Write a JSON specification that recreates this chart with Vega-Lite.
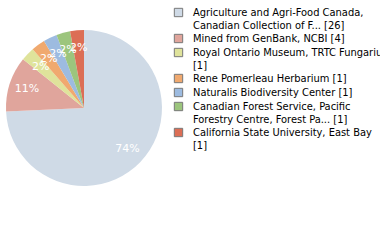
{
  "$schema": "https://vega.github.io/schema/vega-lite/v6.json",
  "width": 168,
  "height": 216,
  "padding": {"left": 0, "top": 0, "right": 212, "bottom": 24},
  "autosize": "none",
  "background": "white",
  "config": {"view": {"stroke": null}},
  "data": {"values": [
    {"source": "Agriculture and Agri-Food Canada,|Canadian Collection of F... [26]", "count": 26, "order": 1, "pct": "74%"},
    {"source": "Mined from GenBank, NCBI [4]", "count": 4, "order": 2, "pct": "11%"},
    {"source": "Royal Ontario Museum, TRTC Fungarium|[1]", "count": 1, "order": 3, "pct": "2%"},
    {"source": "Rene Pomerleau Herbarium [1]", "count": 1, "order": 4, "pct": "2%"},
    {"source": "Naturalis Biodiversity Center [1]", "count": 1, "order": 5, "pct": "2%"},
    {"source": "Canadian Forest Service, Pacific|Forestry Centre, Forest Pa... [1]", "count": 1, "order": 6, "pct": "2%"},
    {"source": "California State University, East Bay|[1]", "count": 1, "order": 7, "pct": "2%"}
  ]},
  "encoding": {
    "theta": {"field": "count", "type": "quantitative", "stack": true},
    "order": {"field": "order", "type": "quantitative"}
  },
  "layer": [
    {
      "mark": {"type": "arc", "outerRadius": 78},
      "encoding": {
        "color": {
          "field": "source", "type": "nominal",
          "sort": {"field": "order"},
          "scale": {
            "domain": [
              "Agriculture and Agri-Food Canada,|Canadian Collection of F... [26]",
              "Mined from GenBank, NCBI [4]",
              "Royal Ontario Museum, TRTC Fungarium|[1]",
              "Rene Pomerleau Herbarium [1]",
              "Naturalis Biodiversity Center [1]",
              "Canadian Forest Service, Pacific|Forestry Centre, Forest Pa... [1]",
              "California State University, East Bay|[1]"
            ],
            "range": ["#cfdae6", "#e0a59c", "#dfe39b", "#f0a96f", "#9dbbe0", "#9cc57d", "#dc6e55"]
          },
          "legend": {
            "title": null,
            "orient": "none",
            "legendX": 173,
            "legendY": 7,
            "symbolType": "square",
            "symbolSize": 70,
            "symbolStrokeColor": "#777777",
            "symbolStrokeWidth": 1,
            "labelFont": "DejaVu Sans Condensed",
            "labelFontSize": 11,
            "labelLineHeight": 12,
            "labelColor": "#000000",
            "labelLimit": 400,
            "labelOffset": 9,
            "rowPadding": 1,
            "labelExpr": "split(datum.label, '|')"
          }
        }
      }
    },
    {
      "mark": {"type": "text", "radius": 60, "color": "white", "font": "DejaVu Sans", "fontSize": 11},
      "encoding": {"text": {"field": "pct", "type": "nominal"}}
    }
  ]
}
